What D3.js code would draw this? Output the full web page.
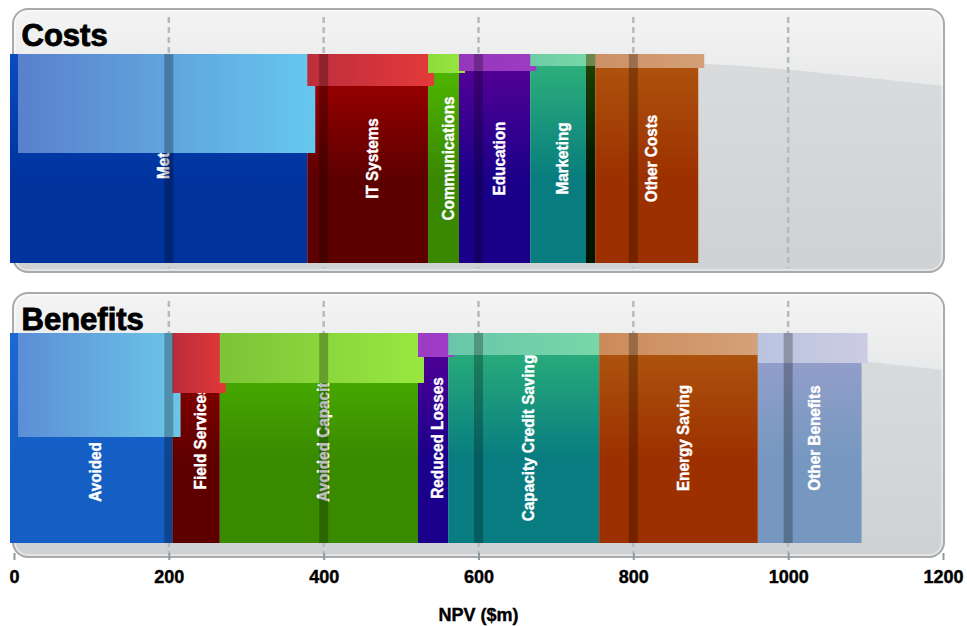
<!DOCTYPE html>
<html>
<head>
<meta charset="utf-8">
<script src="https://cdn.jsdelivr.net/npm/d3@7"></script>
<style>
  body { margin: 0; background: #ffffff; }
  svg { display: block; font-family: "Liberation Sans", Arial, Helvetica, sans-serif; }
</style>
</head>
<body>
<svg id="chart" width="967" height="626"></svg>
<script>
// ---- data (NPV, $m) ----
const costCategories = ["Meter", "IT Systems", "Communications", "Education", "Marketing", "Installation", "Other Costs"];
const costValues = [384, 156, 40, 92, 72, 12, 133];

const benefitCategories = ["Avoided Metering", "Field Services", "Avoided Capacity", "Reduced Losses", "Capacity Credit Saving", "Energy Saving", "Other Benefits"];
const benefitValues = [210, 61, 256, 39, 195, 205, 134];

const xTicks = [0, 200, 400, 600, 800, 1000, 1200];
const panelTitles = ["Costs", "Benefits"];
const axisTitle = "NPV ($m)";

// ---- styles ----
const costColors = [
  { top: "#0b4cc0", bottom: "#00339e", glossL: "#5a80cc", glossR: "#66c8ee" },
  { top: "#a80000", bottom: "#5c0000", glossL: "#bc2e3c", glossR: "#e43a3a" },
  { top: "#52bc00", bottom: "#3a8800", glossL: "#8cdc3c", glossR: "#98e640" },
  { top: "#5a0098", bottom: "#1a0088", glossL: "#9636bc", glossR: "#9c3cc4" },
  { top: "#30b47a", bottom: "#087c7e", glossL: "#6ecca4", glossR: "#78d8a8" },
  { top: "#1e4400", bottom: "#001400", glossL: "#6c8650", glossR: "#6c8650" },
  { top: "#b0560e", bottom: "#9c3000", glossL: "#cc9064", glossR: "#d4a078" }
];
const benefitColors = [
  { top: "#1a6ad4", bottom: "#145ec4", glossL: "#5c8ed6", glossR: "#6cc6e8" },
  { top: "#9a0000", bottom: "#5e0000", glossL: "#bc2c3c", glossR: "#e03838" },
  { top: "#4cba00", bottom: "#3a8a00", glossL: "#7cc438", glossR: "#98e840" },
  { top: "#580098", bottom: "#1a008a", glossL: "#9a3cc2", glossR: "#a23cc8" },
  { top: "#2eb47a", bottom: "#087c80", glossL: "#6ac6aa", glossR: "#78d8a8" },
  { top: "#b05a10", bottom: "#9c3000", glossL: "#cc8a58", glossR: "#d4a27a" },
  { top: "#9aa0cc", bottom: "#7698c0", glossL: "#bac4e0", glossR: "#cccce2" }
];
// depth (px) of the glossy cap drawn over each block
const glossDepth = {
  Costs: [99, 32, 19, 17, 12, 12, 14],
  Benefits: [104, 60, 50, 24, 22, 22, 30]
};

const svg = d3.select("#chart");
const defs = svg.append("defs");

const x = d3.scaleLinear().domain([0, 1200]).range([14, 943]);

const panelLeft = 13, panelRight = 944, panelRadius = 15;
const barShift = -4;

// panel background gradients
const pf = defs.append("linearGradient").attr("id", "panelFill").attr("x1", 0).attr("y1", 0).attr("x2", 0).attr("y2", 1);
pf.append("stop").attr("offset", 0).attr("stop-color", "#dcdddf");
pf.append("stop").attr("offset", 1).attr("stop-color", "#d0d1d3");
const gf = defs.append("linearGradient").attr("id", "glossFill").attr("x1", 0).attr("y1", 0).attr("x2", 0).attr("y2", 1);
gf.append("stop").attr("offset", 0).attr("stop-color", "#f4f4f4");
gf.append("stop").attr("offset", 1).attr("stop-color", "#e8e9ea");

const panels = [
  { title: panelTitles[0], key: "Costs", cats: costCategories, vals: costValues, colors: costColors, top: 9, h: 263, barOff: 45, barH: 209 },
  { title: panelTitles[1], key: "Benefits", cats: benefitCategories, vals: benefitValues, colors: benefitColors, top: 293, h: 264, barOff: 40, barH: 210 }
];

const gridValues = xTicks.filter(v => v > 0 && v < 1200);

panels.forEach((p, pi) => {
  const g = svg.append("g").attr("class", "panel");
  const clipId = "panelClip" + pi;
  defs.append("clipPath").attr("id", clipId)
    .append("rect")
    .attr("x", panelLeft).attr("y", p.top)
    .attr("width", panelRight - panelLeft).attr("height", p.h)
    .attr("rx", panelRadius);

  // panel body
  g.append("rect")
    .attr("x", panelLeft).attr("y", p.top)
    .attr("width", panelRight - panelLeft).attr("height", p.h)
    .attr("rx", panelRadius)
    .attr("fill", "url(#panelFill)");

  // glossy sheen on upper part of panel
  const T = p.top;
  g.append("path")
    .attr("clip-path", `url(#${clipId})`)
    .attr("d", `M${panelLeft},${T} H${panelRight} V${T + 77} C${panelRight - 110},${T + 65} ${panelRight - 190},${T + 56} ${panelRight - 260},${T + 54} H${panelLeft} Z`)
    .attr("fill", "url(#glossFill)");

  // inner highlight + border
  g.append("rect")
    .attr("x", panelLeft + 2).attr("y", p.top + 2)
    .attr("width", panelRight - panelLeft - 4).attr("height", p.h - 4)
    .attr("rx", panelRadius - 2)
    .attr("fill", "none").attr("stroke", "rgba(255,255,255,0.55)").attr("stroke-width", 1.5);
  g.append("rect")
    .attr("x", panelLeft).attr("y", p.top)
    .attr("width", panelRight - panelLeft).attr("height", p.h)
    .attr("rx", panelRadius)
    .attr("fill", "none").attr("stroke", "#a8aaac").attr("stroke-width", 2);

  // dashed gridlines
  g.selectAll("line.grid").data(gridValues).join("line")
    .attr("class", "grid")
    .attr("x1", d => x(d)).attr("x2", d => x(d))
    .attr("y1", p.top + 8).attr("y2", p.top + p.h - 4)
    .attr("stroke", "#b6babd").attr("stroke-width", 2.5)
    .attr("stroke-dasharray", "6,4");

  // stacked segments
  let acc = 0;
  const segs = p.vals.map((v, i) => {
    const s = { name: p.cats[i], value: v, start: acc, end: acc + v, i, c: p.colors[i], depth: glossDepth[p.key][i] };
    acc += v;
    return s;
  });
  const total = acc;
  const by = p.top + p.barOff;

  segs.forEach(s => {
    const bg = defs.append("linearGradient").attr("id", `body${pi}_${s.i}`)
      .attr("x1", 0).attr("y1", 0).attr("x2", 0).attr("y2", 1);
    bg.append("stop").attr("offset", 0).attr("stop-color", s.c.top);
    bg.append("stop").attr("offset", 0.6).attr("stop-color", s.c.bottom);
    bg.append("stop").attr("offset", 1).attr("stop-color", s.c.bottom);
    const gg = defs.append("linearGradient").attr("id", `gloss${pi}_${s.i}`)
      .attr("x1", 0).attr("y1", 0).attr("x2", 1).attr("y2", 0);
    gg.append("stop").attr("offset", 0).attr("stop-color", s.c.glossL);
    gg.append("stop").attr("offset", 1).attr("stop-color", s.c.glossR);
  });

  g.selectAll("rect.seg").data(segs).join("rect")
    .attr("class", "seg")
    .attr("x", s => x(s.start) + barShift)
    .attr("width", s => x(s.end) - x(s.start))
    .attr("y", by).attr("height", p.barH)
    .attr("fill", s => `url(#body${pi}_${s.i})`);

  // rotated, slightly condensed labels
  g.selectAll("text.lbl").data(segs.filter(s => x(s.end) - x(s.start) > 16)).join("text")
    .attr("class", "lbl")
    .attr("transform", s => `translate(${x((s.start + s.end) / 2)},${by + p.barH / 2}) rotate(-90) scale(0.9,1)`)
    .attr("text-anchor", "middle")
    .attr("dy", "0.36em")
    .attr("fill", "#ffffff")
    .attr("stroke", "#ffffff").attr("stroke-width", 0.4)
    .style("font-size", "17px")
    .style("font-weight", "bold")
    .text(s => s.name);

  // glossy caps
  g.selectAll("rect.cap").data(segs).join("rect")
    .attr("class", "cap")
    .attr("x", s => x(s.start) + barShift + (s.i === 0 ? 8 : 0))
    .attr("width", s => x(s.end) - x(s.start) + (s.i === 0 ? 0 : 6))
    .attr("y", by).attr("height", s => s.depth)
    .attr("fill", s => `url(#gloss${pi}_${s.i})`);

  // gridline bands across the bar
  g.selectAll("rect.band").data(gridValues.filter(v => v < total)).join("rect")
    .attr("class", "band")
    .attr("x", d => x(d) - 4.5).attr("width", 9)
    .attr("y", by).attr("height", p.barH)
    .attr("fill", "#000").attr("opacity", 0.26);

  // panel title
  g.append("text")
    .attr("x", 21.5).attr("y", p.top + 37)
    .attr("fill", "#000")
    .attr("stroke", "#000").attr("stroke-width", 0.9)
    .style("font-size", "31px").style("font-weight", "bold")
    .text(p.title);
});

// x axis
const axis = svg.append("g")
  .attr("transform", "translate(0,553)")
  .call(d3.axisBottom(x).tickValues(xTicks).tickSize(7).tickPadding(10).tickFormat(d3.format("d")));
axis.select(".domain").remove();
axis.selectAll(".tick line").attr("stroke", "#8c9a9a").attr("stroke-width", 2);
axis.selectAll(".tick text")
  .attr("fill", "#000")
  .attr("stroke", "#000").attr("stroke-width", 0.4)
  .style("font-size", "18px").style("font-weight", "bold")
  .style("font-family", "'Liberation Sans', Arial, sans-serif");

svg.append("text")
  .attr("x", x(600)).attr("y", 621)
  .attr("text-anchor", "middle")
  .attr("fill", "#000")
  .attr("stroke", "#000").attr("stroke-width", 0.4)
  .style("font-size", "18px").style("font-weight", "bold")
  .text(axisTitle);
</script>
</body>
</html>
